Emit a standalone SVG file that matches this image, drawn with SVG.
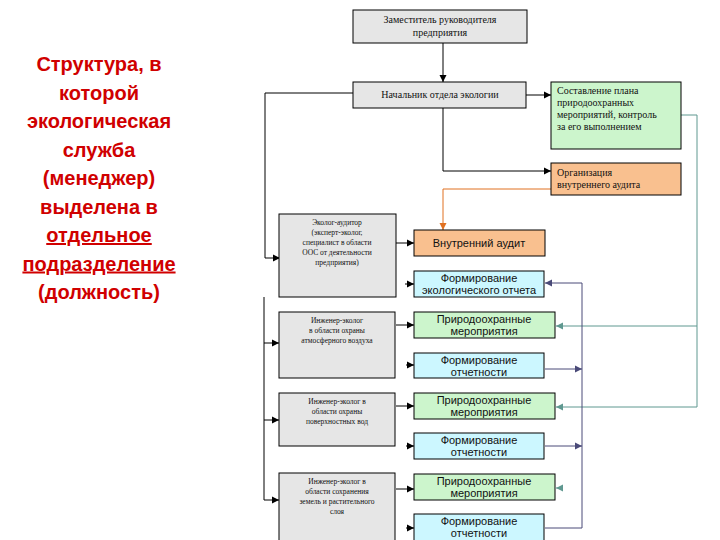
<svg xmlns="http://www.w3.org/2000/svg" width="720" height="540" viewBox="0 0 720 540">
<style>
.g{fill:#e6e6e6;stroke:#000;stroke-width:1}
.gr{fill:#ccf5cc;stroke:#000;stroke-width:1}
.or{fill:#f9c08f;stroke:#000;stroke-width:1}
.cy{fill:#ccf7ff;stroke:#000;stroke-width:1}
.s{font-family:"Liberation Serif",serif;fill:#111}
.a{font-family:"Liberation Sans",Arial,sans-serif;font-size:11px;fill:#111;text-anchor:middle}
.t{font-family:"Liberation Sans",Arial,sans-serif;font-weight:bold;font-size:20px;fill:#d00000;text-anchor:middle}
.k{fill:none;stroke:#000;stroke-width:1}
.o{fill:none;stroke:#e07020;stroke-width:1}
.te{fill:none;stroke:#5f9890;stroke-width:1}
.bl{fill:none;stroke:#4a4a78;stroke-width:1}
</style>
<defs>
<marker id="ak" markerWidth="8" markerHeight="8" refX="7" refY="4" orient="auto" markerUnits="userSpaceOnUse"><path d="M0,0.5 L7,4 L0,7.5z" fill="#000"/></marker>
<marker id="ao" markerWidth="8" markerHeight="8" refX="7" refY="4" orient="auto" markerUnits="userSpaceOnUse"><path d="M0,0.5 L7,4 L0,7.5z" fill="#e07020"/></marker>
<marker id="at" markerWidth="8" markerHeight="8" refX="7" refY="4" orient="auto" markerUnits="userSpaceOnUse"><path d="M0,0.5 L7,4 L0,7.5z" fill="#5f9890"/></marker>
<marker id="ab" markerWidth="8" markerHeight="8" refX="7" refY="4" orient="auto" markerUnits="userSpaceOnUse"><path d="M0,0.5 L7,4 L0,7.5z" fill="#4a4a78"/></marker>
</defs>

<g id="title">
<text class="t" x="99" y="71">Структура, в</text>
<text class="t" x="99" y="99.5">которой</text>
<text class="t" x="99" y="128">экологическая</text>
<text class="t" x="99" y="156.5">служба</text>
<text class="t" x="99" y="185">(менеджер)</text>
<text class="t" x="99" y="213.5">выделена в</text>
<text class="t" x="99" y="242" text-decoration="underline">отдельное</text>
<text class="t" x="99" y="270.5" text-decoration="underline">подразделение</text>
<text class="t" x="99" y="299">(должность)</text>
</g>

<g id="connectors">
<path class="k" d="M443,43 V82" marker-end="url(#ak)"/>
<path class="k" d="M526,95 H551" marker-end="url(#ak)"/>
<path class="k" d="M443,108 V171 H551" marker-end="url(#ak)"/>
<path class="k" d="M353,93 H265 V258 H280" marker-end="url(#ak)"/>
<path class="k" d="M264,297 V500 H279" marker-end="url(#ak)"/>
<path class="k" d="M264,343 H279" marker-end="url(#ak)"/>
<path class="k" d="M264,420 H279" marker-end="url(#ak)"/>
<path class="o" d="M551,189 H443 V230" marker-end="url(#ao)"/>
<path class="k" d="M396,243 H414" marker-end="url(#ak)"/>
<path class="k" d="M405,284 H414" marker-end="url(#ak)"/>
<path class="k" d="M396,325 H414" marker-end="url(#ak)"/>
<path class="k" d="M406,365 H414" marker-end="url(#ak)"/>
<path class="k" d="M396,406 H414" marker-end="url(#ak)"/>
<path class="k" d="M406,446 H414" marker-end="url(#ak)"/>
<path class="k" d="M396,489 H414" marker-end="url(#ak)"/>
<path class="k" d="M406,528 H414" marker-end="url(#ak)"/>
<path class="te" d="M681,115 H697 V407 H556" marker-end="url(#at)"/>
<path class="te" d="M697,326 H556" marker-end="url(#at)"/>
<path class="te" d="M563,488 H556" marker-end="url(#at)"/>
<path class="bl" d="M545,528 H582 V283 H545" marker-end="url(#ab)"/>
<path class="bl" d="M545,369 H582" marker-end="url(#ab)"/>
<path class="bl" d="M545,446 H582" marker-end="url(#ab)"/>
</g>

<g id="n-deputy">
<rect class="g" x="353" y="10" width="174" height="33"/>
<text class="s" font-size="10" text-anchor="middle" x="440" y="23">Заместитель руководителя</text>
<text class="s" font-size="10" text-anchor="middle" x="440" y="36">предприятия</text>
</g>
<g id="n-chief">
<rect class="g" x="353" y="82" width="173" height="26"/>
<text class="s" font-size="10" text-anchor="middle" x="440" y="98">Начальник отдела экологии</text>
</g>
<g id="n-plan">
<rect class="gr" x="551" y="82" width="130" height="67"/>
<text class="s" font-size="10" x="557" y="94">Составление плана</text>
<text class="s" font-size="10" x="557" y="106">природоохранных</text>
<text class="s" font-size="10" x="557" y="118">мероприятий, контроль</text>
<text class="s" font-size="10" x="557" y="130">за его выполнением</text>
</g>
<g id="n-orgaudit">
<rect class="or" x="551" y="163" width="130" height="32"/>
<text class="s" font-size="10" x="557" y="176">Организация</text>
<text class="s" font-size="10" x="557" y="188">внутреннего аудита</text>
</g>
<g id="n-auditor">
<rect class="g" x="279" y="214" width="117" height="83"/>
<text class="s" font-size="7.5" text-anchor="middle" x="337" y="225">Эколог-аудитор</text>
<text class="s" font-size="7.5" text-anchor="middle" x="337" y="235">(эксперт-эколог,</text>
<text class="s" font-size="7.5" text-anchor="middle" x="337" y="245">специалист в области</text>
<text class="s" font-size="7.5" text-anchor="middle" x="337" y="255">ООС от деятельности</text>
<text class="s" font-size="7.5" text-anchor="middle" x="337" y="265">предприятия)</text>
</g>
<g id="n-audit">
<rect class="or" x="414" y="230" width="131" height="26"/>
<text class="a" x="479" y="247">Внутренний аудит</text>
</g>
<g id="n-ecoreport">
<rect class="cy" x="414" y="271" width="130" height="26"/>
<text class="a" x="479" y="282">Формирование</text>
<text class="a" x="479" y="294">экологического отчета</text>
</g>
<g id="n-air">
<rect class="g" x="279" y="312" width="116" height="66"/>
<text class="s" font-size="7.5" text-anchor="middle" x="337" y="323">Инженер-эколог</text>
<text class="s" font-size="7.5" text-anchor="middle" x="337" y="333">в области охраны</text>
<text class="s" font-size="7.5" text-anchor="middle" x="337" y="343">атмосферного воздуха</text>
</g>
<g id="n-air-m">
<rect class="gr" x="414" y="312" width="141" height="26"/>
<text class="a" x="484" y="323">Природоохранные</text>
<text class="a" x="484" y="335">мероприятия</text>
</g>
<g id="n-air-r">
<rect class="cy" x="414" y="353" width="130" height="25"/>
<text class="a" x="479" y="364">Формирование</text>
<text class="a" x="479" y="376">отчетности</text>
</g>
<g id="n-water">
<rect class="g" x="279" y="393" width="116" height="53"/>
<text class="s" font-size="7.5" text-anchor="middle" x="337" y="404">Инженер-эколог в</text>
<text class="s" font-size="7.5" text-anchor="middle" x="337" y="414">области охраны</text>
<text class="s" font-size="7.5" text-anchor="middle" x="337" y="424">поверхностных вод</text>
</g>
<g id="n-water-m">
<rect class="gr" x="414" y="393" width="141" height="26"/>
<text class="a" x="484" y="404">Природоохранные</text>
<text class="a" x="484" y="416">мероприятия</text>
</g>
<g id="n-water-r">
<rect class="cy" x="414" y="433" width="130" height="26"/>
<text class="a" x="479" y="444">Формирование</text>
<text class="a" x="479" y="456">отчетности</text>
</g>
<g id="n-land">
<rect class="g" x="279" y="473" width="116" height="70"/>
<text class="s" font-size="7.5" text-anchor="middle" x="337" y="484">Инженер-эколог в</text>
<text class="s" font-size="7.5" text-anchor="middle" x="337" y="494">области сохранения</text>
<text class="s" font-size="7.5" text-anchor="middle" x="337" y="504">земель и растительного</text>
<text class="s" font-size="7.5" text-anchor="middle" x="337" y="514">слоя</text>
</g>
<g id="n-land-m">
<rect class="gr" x="414" y="474" width="141" height="26"/>
<text class="a" x="484" y="485">Природоохранные</text>
<text class="a" x="484" y="497">мероприятия</text>
</g>
<g id="n-land-r">
<rect class="cy" x="414" y="514" width="130" height="30"/>
<text class="a" x="479" y="525">Формирование</text>
<text class="a" x="479" y="537">отчетности</text>
</g>
</svg>
